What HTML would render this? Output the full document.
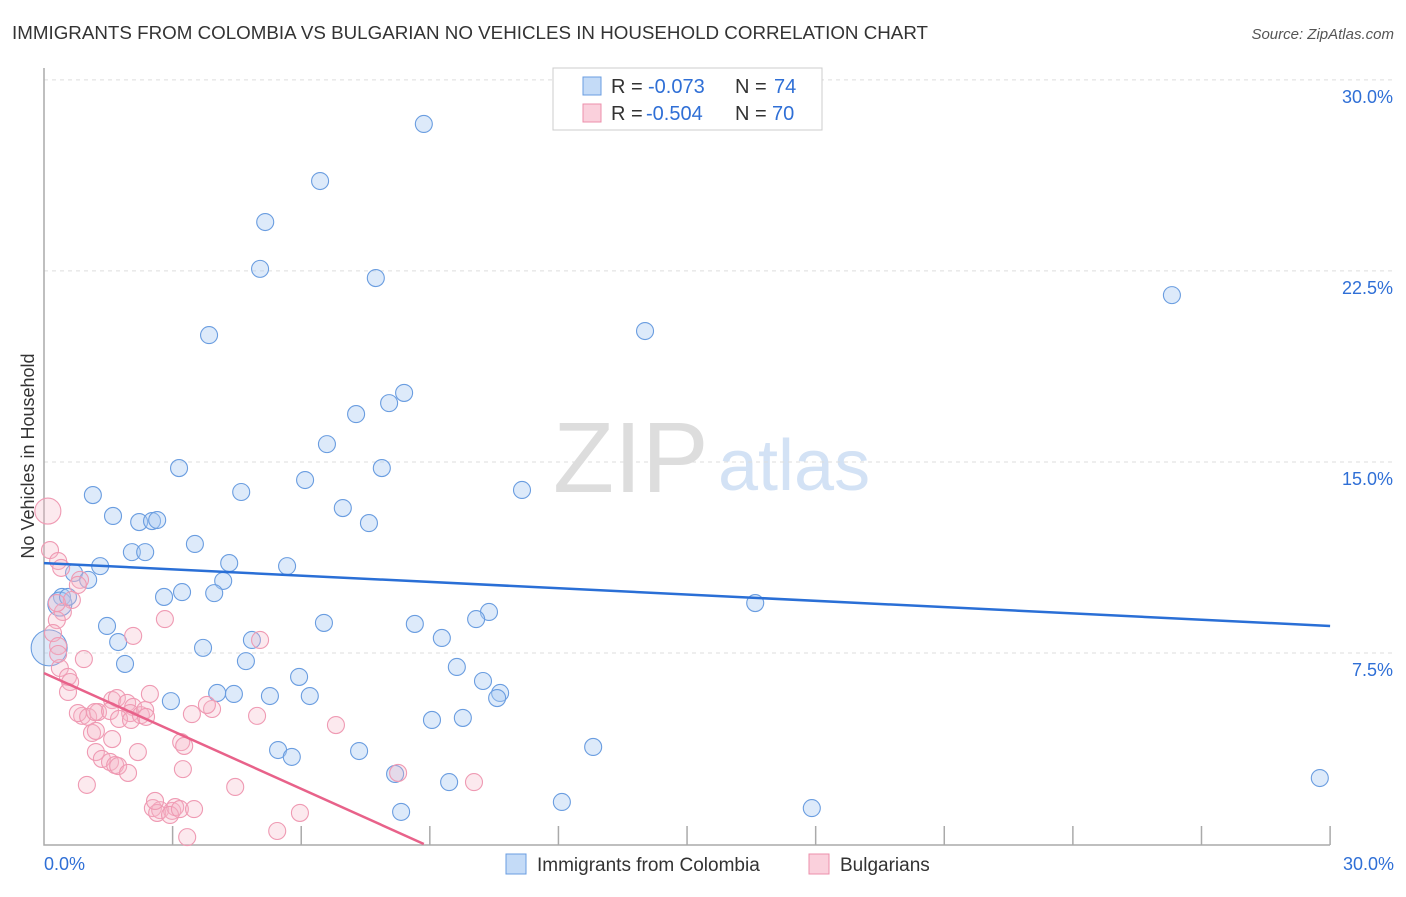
<!DOCTYPE html>
<html><head><meta charset="utf-8">
<style>
body{margin:0;background:#fff;font-family:"Liberation Sans",sans-serif;}
svg text{font-family:"Liberation Sans",sans-serif;}
</style></head>
<body>
<svg id="chart" width="1406" height="892" xmlns="http://www.w3.org/2000/svg">
<text x="12" y="39" font-size="18" fill="#333" textLength="916" lengthAdjust="spacingAndGlyphs">IMMIGRANTS FROM COLOMBIA VS BULGARIAN NO VEHICLES IN HOUSEHOLD CORRELATION CHART</text>
<text x="1394" y="39" font-size="15" fill="#555" text-anchor="end" font-style="italic">Source: ZipAtlas.com</text>
<g>
<text x="553" y="492" font-size="100" fill="#ddd" font-family="Liberation Serif, serif">ZIP</text>
<text x="718" y="490" font-size="72" fill="#d3e2f5">atlas</text>
</g>
<g id="grid"></g>
<g id="axes"></g>
<g id="marks"></g>
<g id="trends"></g>
<text transform="translate(34,456) rotate(-90)" font-size="18" fill="#333" text-anchor="middle">No Vehicles in Household</text>
<g>
<rect x="553" y="68" width="269" height="62" fill="#fff" stroke="#ccc"/>
<rect x="583" y="77" width="18" height="18" fill="#c4dbf7" stroke="#6a9de0"/>
<rect x="583" y="104" width="18" height="18" fill="#fad0dc" stroke="#ec8fab"/>
<text x="611" y="93" font-size="20" fill="#333">R =</text>
<text x="648" y="93" font-size="20" fill="#2f6fd6">-0.073</text>
<text x="735" y="93" font-size="20" fill="#333">N =</text>
<text x="774" y="93" font-size="20" fill="#2f6fd6">74</text>
<text x="611" y="120" font-size="20" fill="#333">R =</text>
<text x="646" y="120" font-size="20" fill="#2f6fd6">-0.504</text>
<text x="735" y="120" font-size="20" fill="#333">N =</text>
<text x="772" y="120" font-size="20" fill="#2f6fd6">70</text>
</g>
<g>
<rect x="506" y="854" width="20" height="20" fill="#c4dbf7" stroke="#6a9de0"/>
<text x="537" y="871" font-size="19" fill="#333">Immigrants from Colombia</text>
<rect x="809" y="854" width="20" height="20" fill="#fad0dc" stroke="#ec8fab"/>
<text x="840" y="871" font-size="19" fill="#333">Bulgarians</text>
</g>
</svg>
<script>
const yTicks=[7.5,15,22.5,30];
const yTickLabels=["7.5%","15.0%","22.5%","30.0%"];
const xTickVals=[0,3,6,9,12,15,18,21,24,27,30];
const xEdgeLabels=["0.0%","30.0%"];
const blueX=[8.86,6.44,5.16,5.04,7.74,3.85,14.02,26.31,8.40,8.05,7.28,6.60,3.15,7.88,4.60,6.09,11.15,1.14,6.97,1.61,2.22,2.52,2.64,7.58,3.52,2.05,2.36,4.32,5.67,1.31,0.70,1.03,4.18,3.97,2.80,3.22,0.42,0.37,0.12,0.56,16.59,10.38,10.08,6.53,8.65,1.47,1.73,4.85,9.28,3.71,1.89,4.71,9.63,5.95,10.24,4.04,10.64,10.57,2.96,4.43,5.27,6.20,9.05,9.77,12.81,5.46,5.78,7.35,8.19,9.45,12.08,8.33,17.91,29.76];
const blueY=[28.27,26.03,24.42,22.58,22.22,19.98,20.14,21.55,17.71,17.31,16.88,15.70,14.76,14.76,13.82,14.29,13.90,13.70,13.19,12.88,12.64,12.68,12.72,12.60,11.78,11.46,11.46,11.03,10.91,10.91,10.64,10.37,10.33,9.85,9.70,9.89,9.70,9.42,7.70,9.70,9.46,9.11,8.83,8.68,8.64,8.56,7.93,8.01,8.09,7.70,7.07,7.18,6.95,6.56,6.40,5.93,5.93,5.73,5.61,5.89,5.81,5.81,4.87,4.95,3.81,3.69,3.42,3.65,2.75,2.43,1.65,1.26,1.41,2.59];
const blueSize=blueX.map((v,i)=>i===38?18:(i===37?12:8.5));
const pinkX=[0.09,0.14,0.33,0.40,0.84,0.79,0.65,0.44,0.30,0.30,0.21,0.33,0.37,2.82,2.08,5.04,0.93,0.33,0.56,0.61,0.56,1.59,2.47,1.70,1.94,2.08,0.89,0.79,1.03,1.26,1.19,1.54,2.01,1.75,2.03,2.26,2.36,2.38,3.45,3.92,3.80,4.97,6.81,1.12,1.21,1.59,1.21,1.35,1.54,1.66,1.73,2.19,3.20,3.27,1.96,3.24,1.00,4.46,5.97,2.54,2.71,2.64,2.99,3.06,2.94,3.17,3.50,3.34,5.44,8.26,10.03,2.59];
const pinkY=[13.07,11.54,11.11,10.84,10.37,10.17,9.58,9.11,9.46,8.79,8.28,7.77,6.91,8.83,8.17,8.01,7.26,7.46,6.56,6.36,5.97,5.65,5.89,5.73,5.54,5.38,5.03,5.14,4.99,5.18,5.18,5.22,5.14,4.91,4.87,5.06,5.26,4.99,5.10,5.30,5.46,5.03,4.67,4.36,4.44,4.12,3.61,3.34,3.22,3.10,3.06,3.61,4.00,3.85,2.79,2.94,2.32,2.24,1.22,1.41,1.33,1.22,1.30,1.45,1.14,1.37,1.37,0.27,0.51,2.79,2.43,1.69];
const pinkSize=pinkX.map((v,i)=>i===0?13:8.5);
const blueTrend=[[0,11.03],[30,8.56]];
const pinkTrend=[[0,6.71],[8.86,0]];
const NS="http://www.w3.org/2000/svg";
const X=v=>44+v*42.87, Y=v=>844-v*25.47;
function mk(tag,attrs,parent){const e=document.createElementNS(NS,tag);for(const k in attrs)e.setAttribute(k,attrs[k]);document.getElementById(parent).appendChild(e);return e;}
yTicks.forEach((t,i)=>{
 const l=mk('line',{x1:44,x2:1394,y1:Y(t),y2:Y(t),stroke:'#ddd','stroke-dasharray':'4,4'},'grid');
 
 
 const tx=mk('text',{x:1393,y:Y(t)+23,'font-size':18,fill:'#2f6fd6','text-anchor':'end'},'grid');
 tx.textContent=yTickLabels[i];
 
 
});
const ax=mk('path',{d:`M44 68 V845 H1330`,fill:'none',stroke:'#aaa','stroke-width':1.5},'axes');


xTickVals.forEach(t=>{if(t===0)return;
 const l=mk('line',{x1:X(t),x2:X(t),y1:826,y2:845,stroke:'#aaa','stroke-width':1.5},'axes');
 
 
});
[[0,'start',44],[30,'end',1394]].forEach((d,i)=>{
 const tx=mk('text',{x:d[2],y:870,'font-size':18,fill:'#2f6fd6','text-anchor':d[1]},'axes');
 tx.textContent=xEdgeLabels[i];
 
 
});
blueX.forEach((v,i)=>{
 const c=mk('circle',{cx:X(v),cy:Y(blueY[i]),r:blueSize[i],fill:'rgba(170,202,242,0.4)',stroke:'#6a9de0','stroke-width':1.1},'marks');
 
 
});
pinkX.forEach((v,i)=>{
 const c=mk('circle',{cx:X(v),cy:Y(pinkY[i]),r:pinkSize[i],fill:'rgba(246,182,200,0.3)',stroke:'#ef9ab3','stroke-width':1.1},'marks');
 
 
});
const bt=mk('line',{x1:X(blueTrend[0][0]),y1:Y(blueTrend[0][1]),x2:X(blueTrend[1][0]),y2:Y(blueTrend[1][1]),stroke:'#2a6fd6','stroke-width':2.5},'trends');


const pt=mk('line',{x1:X(pinkTrend[0][0]),y1:Y(pinkTrend[0][1]),x2:X(pinkTrend[1][0]),y2:Y(pinkTrend[1][1]),stroke:'#e8628a','stroke-width':2.5},'trends');


</script>
</body></html>
